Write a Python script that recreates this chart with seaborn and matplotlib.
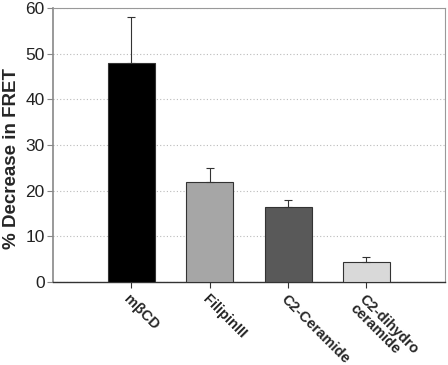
import numpy as np
import pandas as pd
import seaborn as sns
import matplotlib.pyplot as plt

# values
treatments = ['mβCD', 'FilipinIII', 'C2-Ceramide', 'C2-dihydro\nceramide']
decrease = [48.0, 22.0, 16.5, 4.5]
errors = [10.0, 3.0, 1.5, 1.0]
bar_colors = ['#000000', '#a6a6a6', '#595959', '#d9d9d9']

df = pd.DataFrame({'Treatment': treatments, 'Decrease': decrease, 'Err': errors})

sns.set_style('white')
plt.rcParams['font.family'] = ['Liberation Sans', 'DejaVu Sans']

fig = plt.figure(figsize=(4.48, 3.65), dpi=100)
ax = fig.add_axes([0.118, 0.227, 0.875, 0.751])

sns.barplot(data=df, x='Treatment', y='Decrease', hue='Treatment', palette=bar_colors,
            legend=False, width=0.6, edgecolor='#333333', linewidth=0.8, ax=ax, zorder=3)

# upper error bars only
ax.errorbar(np.arange(len(treatments)), df['Decrease'], yerr=[np.zeros(len(errors)), df['Err']],
            fmt='none', ecolor='#333333', elinewidth=0.8, capsize=3, capthick=0.8, zorder=4)

ax.set_xlim(-1, 4)
ax.set_ylim(0, 60)
ax.set_yticks(range(0, 61, 10))
ax.yaxis.grid(True, linestyle=(0, (1, 2)), color='#bbbbbb', linewidth=0.8, zorder=0)
ax.set_axisbelow(True)

for side in ['top', 'right']:
    ax.spines[side].set_color('#999999')
    ax.spines[side].set_linewidth(0.8)
ax.spines['left'].set_color('#888888')
ax.spines['left'].set_linewidth(1.2)
ax.spines['bottom'].set_color('#333333')
ax.spines['bottom'].set_linewidth(1.0)

ax.tick_params(axis='y', length=4, width=0.8, color='#888888', labelsize=12.5,
               labelcolor='#222222', pad=2, left=True)
ax.tick_params(axis='x', length=4, width=0.8, color='#333333', bottom=True, pad=3)
ax.set_xticks(range(len(treatments)))
ax.set_xticklabels(treatments, rotation=-45, ha='left', rotation_mode='anchor',
                   fontsize=10.5, fontweight='bold', linespacing=0.95)

ax.set_xlabel('')
ax.set_ylabel('% Decrease in FRET', fontsize=13.5, fontweight='bold')
ax.yaxis.set_label_coords(-0.083, 0.45)

fig.savefig('out.png', dpi=100)
